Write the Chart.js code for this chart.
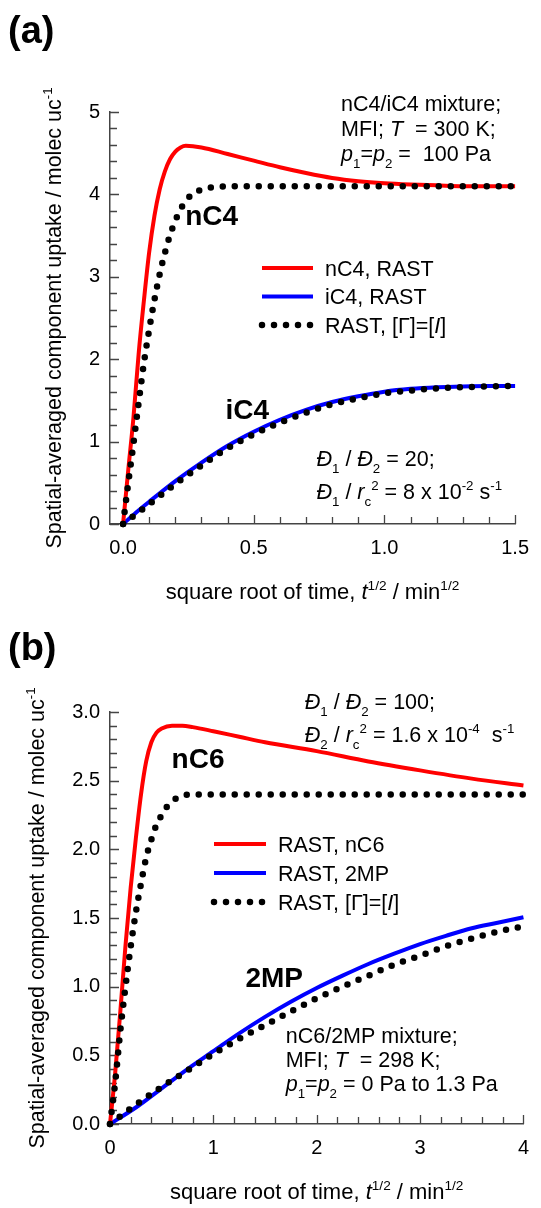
<!DOCTYPE html>
<html>
<head>
<meta charset="utf-8">
<script src="https://cdn.jsdelivr.net/npm/chart.js@4"></script>
<style>
  body { margin: 0; background: #fff; width: 541px; height: 1208px; position: relative; overflow: hidden; }
  .panel { position: absolute; left: 0; width: 541px; }
  #pa { top: 0; }
  #pb { top: 600px; }
</style>
</head>
<body>
<div class="panel" id="pa"><canvas id="chartA" width="541" height="610"></canvas></div>
<div class="panel" id="pb"><canvas id="chartB" width="541" height="608"></canvas></div>
<script>
const FONT = '"Liberation Sans", Arial, Helvetica, sans-serif';
const AXIS = "#444";

// ---- panel (a): nC4/iC4 in MFI, 300 K ----
const tA_nC4 = [0, 0.02, 0.04, 0.06, 0.08, 0.10, 0.12, 0.14, 0.16, 0.18, 0.20, 0.22, 0.24, 0.30, 0.40, 0.50, 0.60, 0.70, 0.80, 0.90, 1.00, 1.10, 1.20, 1.30, 1.40, 1.50];
const qA_nC4 = [0, 0.66, 1.30, 2.08, 2.72, 3.30, 3.74, 4.06, 4.28, 4.43, 4.52, 4.57, 4.59, 4.57, 4.49, 4.41, 4.33, 4.26, 4.20, 4.16, 4.135, 4.12, 4.11, 4.10, 4.10, 4.10];
const tA_iC4 = [0, 0.05, 0.1, 0.2, 0.3, 0.4, 0.5, 0.6, 0.7, 0.8, 0.9, 1.0, 1.1, 1.2, 1.3, 1.4, 1.5];
const qA_iC4 = [0, 0.14, 0.27, 0.52, 0.745, 0.95, 1.12, 1.265, 1.385, 1.48, 1.55, 1.605, 1.64, 1.66, 1.67, 1.675, 1.675];
const tA_nC4_eq = [0, 0.02, 0.04, 0.06, 0.08, 0.10, 0.12, 0.14, 0.16, 0.18, 0.20, 0.22, 0.24, 0.26, 0.28, 0.30, 0.33, 0.36, 0.40, 0.60, 0.80, 1.00, 1.20, 1.50];
const qA_nC4_eq = [0, 0.50, 0.98, 1.48, 1.96, 2.36, 2.72, 3.03, 3.29, 3.51, 3.68, 3.82, 3.92, 3.99, 4.03, 4.06, 4.08, 4.09, 4.10, 4.10, 4.10, 4.10, 4.10, 4.10];
const tA_iC4_eq = [0, 0.05, 0.1, 0.2, 0.3, 0.4, 0.5, 0.6, 0.7, 0.8, 0.9, 1.0, 1.1, 1.2, 1.3, 1.4, 1.5];
const qA_iC4_eq = [0, 0.12, 0.24, 0.485, 0.71, 0.92, 1.09, 1.23, 1.35, 1.455, 1.525, 1.585, 1.62, 1.645, 1.66, 1.67, 1.675];
const xTicksA = [0, 0.5, 1.0, 1.5];
const xLabelsA = ["0.0", "0.5", "1.0", "1.5"];
const yTicksA = [0, 1, 2, 3, 4, 5];
const yLabelsA = ["0", "1", "2", "3", "4", "5"];
const legendA = ["nC4, RAST", "iC4, RAST", "RAST, [Γ]=[*I*]"];

// ---- panel (b): nC6/2MP in MFI, 298 K ----
const tB_nC6 = [0, 0.05, 0.1, 0.15, 0.2, 0.25, 0.3, 0.35, 0.4, 0.45, 0.5, 0.6, 0.7, 0.8, 1.0, 1.25, 1.5, 2, 2.5, 3, 3.5, 4];
const qB_nC6 = [0, 0.37, 0.82, 1.30, 1.72, 2.08, 2.40, 2.64, 2.78, 2.85, 2.88, 2.90, 2.90, 2.89, 2.86, 2.82, 2.78, 2.715, 2.64, 2.575, 2.515, 2.465];
const tB_2MP = [0, 0.25, 0.5, 0.75, 1, 1.25, 1.5, 1.75, 2, 2.25, 2.5, 2.75, 3, 3.25, 3.5, 3.75, 4];
const qB_2MP = [0, 0.12, 0.26, 0.40, 0.53, 0.66, 0.78, 0.89, 0.99, 1.08, 1.165, 1.24, 1.31, 1.37, 1.425, 1.465, 1.505];
const tB_nC6_eq = [0, 0.05, 0.1, 0.15, 0.2, 0.25, 0.3, 0.35, 0.4, 0.45, 0.5, 0.55, 0.6, 0.7, 0.8, 1, 1.5, 2, 2.5, 3, 3.5, 4];
const qB_nC6_eq = [0, 0.30, 0.68, 1.00, 1.29, 1.54, 1.75, 1.94, 2.07, 2.18, 2.25, 2.31, 2.35, 2.39, 2.40, 2.40, 2.40, 2.40, 2.40, 2.40, 2.40, 2.40];
const tB_2MP_eq = [0, 0.25, 0.5, 0.75, 1, 1.25, 1.5, 1.75, 2, 2.25, 2.5, 2.75, 3, 3.25, 3.5, 3.75, 4];
const qB_2MP_eq = [0, 0.14, 0.27, 0.39, 0.51, 0.62, 0.72, 0.82, 0.915, 1.0, 1.08, 1.16, 1.225, 1.295, 1.35, 1.40, 1.44];
const xTicksB = [0, 1, 2, 3, 4];
const xLabelsB = ["0", "1", "2", "3", "4"];
const yTicksB = [0, 0.5, 1.0, 1.5, 2.0, 2.5, 3.0];
const yLabelsB = ["0.0", "0.5", "1.0", "1.5", "2.0", "2.5", "3.0"];
const legendB = ["RAST, nC6", "RAST, 2MP", "RAST, [Γ]=[*I*]"];

const xTitle = "square root of time, *t*^{1/2} / min^{1/2}";
const yTitle = "Spatial-averaged component uptake / molec uc^{-1}";

// tiny markup: *italic*, _{sub}, ^{sup}
function parseRich(s) {
  const parts = [];
  let it = false, mode = "", buf = "";
  const push = () => { if (buf) parts.push({ t: buf, it, mode }); buf = ""; };
  for (let i = 0; i < s.length; i++) {
    const c = s[i];
    if (c === "*") { push(); it = !it; }
    else if ((c === "_" || c === "^") && s[i + 1] === "{") { push(); mode = c; i++; }
    else if (c === "}" && mode) { push(); mode = ""; }
    else buf += c;
  }
  push();
  return parts;
}

function drawRich(ctx, s, x, y, size, bold, align) {
  const parts = parseRich(s);
  const fontOf = p => (p.it ? "italic " : "") + (bold ? "bold " : "") + (p.mode ? size * 0.62 : size) + "px " + FONT;
  let w = 0;
  parts.forEach(p => { ctx.font = fontOf(p); p.w = ctx.measureText(p.t).width; w += p.w; });
  let cx = align === "center" ? x - w / 2 : x;
  ctx.textAlign = "left";
  ctx.textBaseline = "alphabetic";
  ctx.fillStyle = "#000";
  parts.forEach(p => {
    ctx.font = fontOf(p);
    const dy = p.mode === "_" ? size * 0.33 : p.mode === "^" ? -size * 0.42 : 0;
    ctx.fillText(p.t, cx, y + dy);
    cx += p.w;
  });
}

const pts = (xs, ys) => xs.map((x, i) => ({ x: x, y: ys[i] }));

function lineSet(label, xs, ys, color) {
  return { label, data: pts(xs, ys), borderColor: color, borderWidth: 4, pointRadius: 0,
    cubicInterpolationMode: "monotone", order: 2, clip: false };
}
function dotSet(label, xs, ys) {
  return { label, data: pts(xs, ys), borderColor: "#000", borderWidth: 6.5, borderDash: [0, 12],
    borderCapStyle: "round", pointRadius: 0, cubicInterpolationMode: "monotone", order: 1, clip: false };
}

function decor(p) {
  return {
    id: "decor",
    beforeDatasetsDraw(chart) {
      const ctx = chart.ctx, a = chart.chartArea, sx = chart.scales.x, sy = chart.scales.y;
      ctx.save();
      ctx.strokeStyle = AXIS;
      ctx.lineWidth = 1.3;
      ctx.beginPath();
      for (let k = Math.ceil(sx.min / p.xMinor - 1e-9); k * p.xMinor <= sx.max + 1e-9; k++) {
        const v = k * p.xMinor, major = Math.abs(v / p.xMajor - Math.round(v / p.xMajor)) < 1e-6;
        const px = Math.round(sx.getPixelForValue(v)) + 0.5;
        ctx.moveTo(px, a.bottom);
        ctx.lineTo(px, a.bottom - (major ? 9 : 7));
      }
      for (let k = Math.ceil(sy.min / p.yMinor - 1e-9); k * p.yMinor <= sy.max + 1e-9; k++) {
        const v = k * p.yMinor, major = Math.abs(v / p.yMajor - Math.round(v / p.yMajor)) < 1e-6;
        const py = Math.round(sy.getPixelForValue(v)) + 0.5;
        ctx.moveTo(a.left, py);
        ctx.lineTo(a.left + (major ? 9 : 7), py);
      }
      ctx.stroke();
      ctx.restore();
    },
    afterDraw(chart) {
      const ctx = chart.ctx, a = chart.chartArea, sx = chart.scales.x, sy = chart.scales.y;
      ctx.save();
      // legend
      const L = p.legend;
      chart.data.datasets.filter(d => d.label).forEach((d, i) => {
        const y = L.y0 + i * L.dy;
        ctx.save();
        ctx.strokeStyle = d.borderColor;
        ctx.lineWidth = d.borderWidth;
        ctx.lineCap = d.borderDash ? "round" : "butt";
        ctx.setLineDash(d.borderDash || []);
        ctx.beginPath();
        ctx.moveTo(L.x1, y);
        ctx.lineTo(L.x2, y);
        ctx.stroke();
        ctx.restore();
        drawRich(ctx, d.label, L.xText, y + 7.5, 21.5, false);
      });
      // annotations, placed in data coordinates
      p.notes.forEach(n => {
        drawRich(ctx, n.s, sx.getPixelForValue(n.x), sy.getPixelForValue(n.y), n.size || 21.5, !!n.bold);
      });
      // axis titles
      drawRich(ctx, xTitle, (a.left + a.right) / 2, a.bottom + 75, 22, false, "center");
      ctx.translate(p.yTitleX, (a.top + a.bottom) / 2);
      ctx.rotate(-Math.PI / 2);
      drawRich(ctx, yTitle, 0, 0, 21.5, false, "center");
      ctx.setTransform(1, 0, 0, 1, 0, 0);
      // panel letter
      drawRich(ctx, p.letter, 8, p.letterY, 38, true);
      ctx.restore();
    }
  };
}

function makeChart(id, H, datasets, ax, p) {
  const tickFont = { family: FONT, size: 20 };
  return new Chart(document.getElementById(id), {
    type: "line",
    data: { datasets },
    options: {
      responsive: false,
      animation: false,
      devicePixelRatio: 1,
      layout: { padding: { top: 112, right: 15, left: 0, bottom: 0 } },
      plugins: { legend: { display: false }, tooltip: { enabled: false } },
      scales: {
        x: {
          type: "linear", min: ax.xMin, max: ax.xMax,
          grid: { display: false, drawTicks: false },
          border: { color: AXIS, width: 1.5 },
          ticks: { font: tickFont, color: "#000", padding: 12, maxRotation: 0, autoSkip: false,
            callback: (v, i) => ax.xLabels[i] },
          afterBuildTicks: s => { s.ticks = ax.xTicks.map(v => ({ value: v })); },
          afterFit: s => { s.height = H - 524; }
        },
        y: {
          type: "linear", min: ax.yMin, max: ax.yMax,
          grid: { display: false, drawTicks: false },
          border: { color: AXIS, width: 1.5 },
          ticks: { font: tickFont, color: "#000", padding: 10, autoSkip: false,
            callback: (v, i) => ax.yLabels[i] },
          afterBuildTicks: s => { s.ticks = ax.yTicks.map(v => ({ value: v })); },
          afterFit: s => { s.width = 110; }
        }
      }
    },
    plugins: [decor(p)]
  });
}

makeChart("chartA", 610, [
  lineSet(legendA[0], tA_nC4, qA_nC4, "#ff0000"),
  lineSet(legendA[1], tA_iC4, qA_iC4, "#0000ff"),
  dotSet(legendA[2], tA_nC4_eq, qA_nC4_eq),
  dotSet("", tA_iC4_eq, qA_iC4_eq)
], { xMin: -0.05, xMax: 1.5, yMin: 0, yMax: 5, xTicks: xTicksA, xLabels: xLabelsA, yTicks: yTicksA, yLabels: yLabelsA }, {
  xMinor: 0.1, xMajor: 0.5, yMinor: 0.2, yMajor: 1,
  legend: { x1: 262, x2: 313, xText: 325, y0: 268, dy: 28.5 },
  yTitleX: 61, letter: "(a)", letterY: 43,
  notes: [
    { x: 0.834, y: 5.01, s: "nC4/iC4 mixture;" },
    { x: 0.834, y: 4.71, s: "MFI; *T*  = 300 K;" },
    { x: 0.834, y: 4.41, s: "*p*_{1}=*p*_{2} =  100 Pa" },
    { x: 0.238, y: 3.63, s: "nC4", bold: true, size: 28 },
    { x: 0.392, y: 1.27, s: "iC4", bold: true, size: 28 },
    { x: 0.74, y: 0.70, s: "*Đ*_{1} / *Đ*_{2} = 20;" },
    { x: 0.74, y: 0.30, s: "*Đ*_{1} / *r*_{c}^{2} = 8 x 10^{-2} s^{-1}" }
  ]
});

makeChart("chartB", 608, [
  lineSet(legendB[0], tB_nC6, qB_nC6, "#ff0000"),
  lineSet(legendB[1], tB_2MP, qB_2MP, "#0000ff"),
  dotSet(legendB[2], tB_nC6_eq, qB_nC6_eq),
  dotSet("", tB_2MP_eq, qB_2MP_eq)
], { xMin: 0, xMax: 4, yMin: 0, yMax: 3, xTicks: xTicksB, xLabels: xLabelsB, yTicks: yTicksB, yLabels: yLabelsB }, {
  xMinor: 0.2, xMajor: 1, yMinor: 0.1, yMajor: 0.5,
  legend: { x1: 214, x2: 266, xText: 278, y0: 244, dy: 29 },
  yTitleX: 44, letter: "(b)", letterY: 60,
  notes: [
    { x: 1.885, y: 3.02, s: "*Đ*_{1} / *Đ*_{2} = 100;" },
    { x: 1.885, y: 2.78, s: "*Đ*_{2} / *r*_{c}^{2} = 1.6 x 10^{-4}  s^{-1}" },
    { x: 0.596, y: 2.59, s: "nC6", bold: true, size: 28 },
    { x: 1.31, y: 0.995, s: "2MP", bold: true, size: 28 },
    { x: 1.70, y: 0.588, s: "nC6/2MP mixture;" },
    { x: 1.70, y: 0.414, s: "MFI; *T*  = 298 K;" },
    { x: 1.70, y: 0.24, s: "*p*_{1}=*p*_{2} = 0 Pa to 1.3 Pa" }
  ]
});
</script>
</body>
</html>
